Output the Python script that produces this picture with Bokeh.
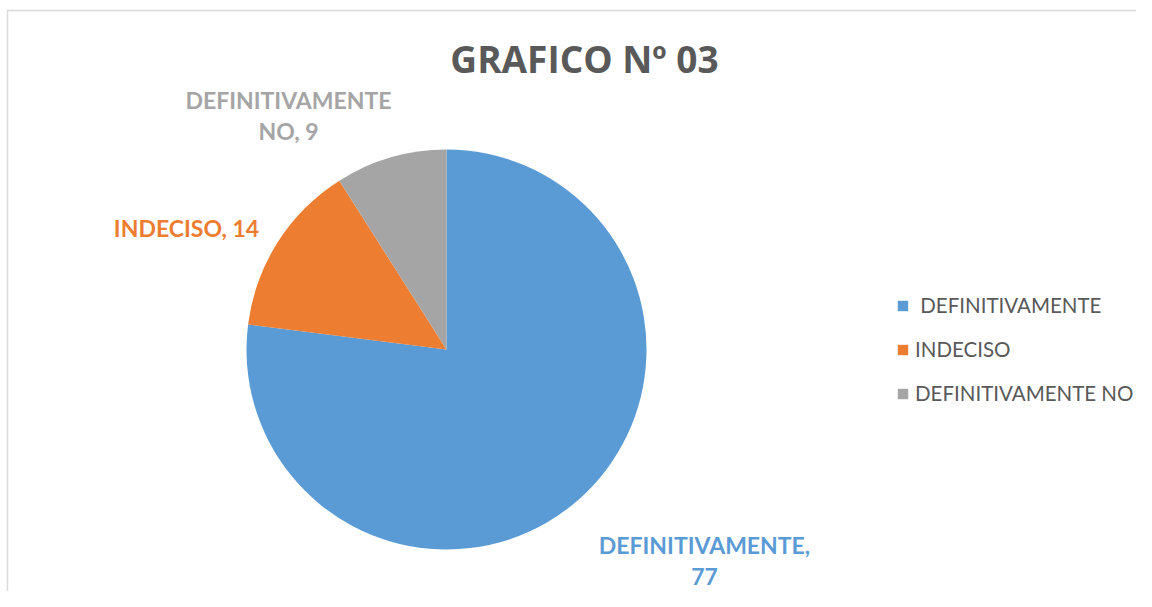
import numpy as np
from bokeh.plotting import figure
from bokeh.models import Range1d, Legend, LegendItem, ColumnDataSource
from bokeh.core.properties import value
from bokeh.embed import file_html
from bokeh.resources import INLINE

# ---- data ----
categories = ["DEFINITIVAMENTE", "INDECISO", "DEFINITIVAMENTE NO"]
values = [77, 14, 9]
colors = ["#5B9BD5", "#ED7D31", "#A5A5A5"]
label_texts = ["DEFINITIVAMENTE,\n77", "INDECISO, 14", "DEFINITIVAMENTE\nNO, 9"]
title_text = "GRAFICO Nº 03"

W, H = 1136, 591
FONT = "Lato"

p = figure(width=W, height=H, output_backend="svg", toolbar_location=None,
           x_range=Range1d(0, W), y_range=Range1d(0, H),
           min_border=0, match_aspect=False)
p.axis.visible = False
p.grid.visible = False
p.outline_line_color = None
p.background_fill_color = "white"
p.border_fill_color = "white"

def px(x):
    return x

def py(y):
    return H - y

# chart border (top and left)
p.line(x=[px(7), px(7), W], y=[0, py(10), py(10)], line_color="#D9D9D9", line_width=1.5)

# pie: starts at 12 o'clock, clockwise
vals = np.array(values, dtype=float)
frac = vals / vals.sum()
ends = np.pi / 2 - 2 * np.pi * np.concatenate([[0], np.cumsum(frac)[:-1]])
starts = ends - 2 * np.pi * frac
src = ColumnDataSource(dict(cat=categories, start=starts, end=ends, color=colors))
cx, cy, r = px(446), py(349), 200
wr = p.wedge(x=cx, y=cy, radius=r, start_angle="start", end_angle="end",
             fill_color="color", line_color="white", line_width=0, source=src)

# data labels
lab_x = [px(704), px(186), px(288)]
lab_y = [py(560), py(227), py(115)]
for t, x, y, c in zip(label_texts, lab_x, lab_y, colors):
    p.text(x=[x], y=[y], text=[t], text_color=c, text_font=value(FONT),
           text_font_style="bold", text_font_size="23px", text_align="center",
           text_baseline="middle", text_line_height=1.08)

# title
p.text(x=[px(584)], y=[py(58)], text=[title_text], text_color="#595959",
       text_font=value("Open Sans"), text_font_style="bold", text_font_size="37px",
       text_align="center", text_baseline="middle")

# legend
items = [LegendItem(label=(" " + c if i == 0 else c), renderers=[wr], index=i)
         for i, c in enumerate(categories)]
legend = Legend(items=items, location=(px(896), H - 405),
                label_text_font=FONT, label_text_font_size="20.5px",
                label_text_color="#595959", glyph_height=13, glyph_width=13,
                label_height=22, spacing=20, label_standoff=6,
                padding=0, margin=0, border_line_color=None,
                background_fill_alpha=0)
p.add_layout(legend, "center")

open("out.html", "w").write(file_html(p, INLINE))
